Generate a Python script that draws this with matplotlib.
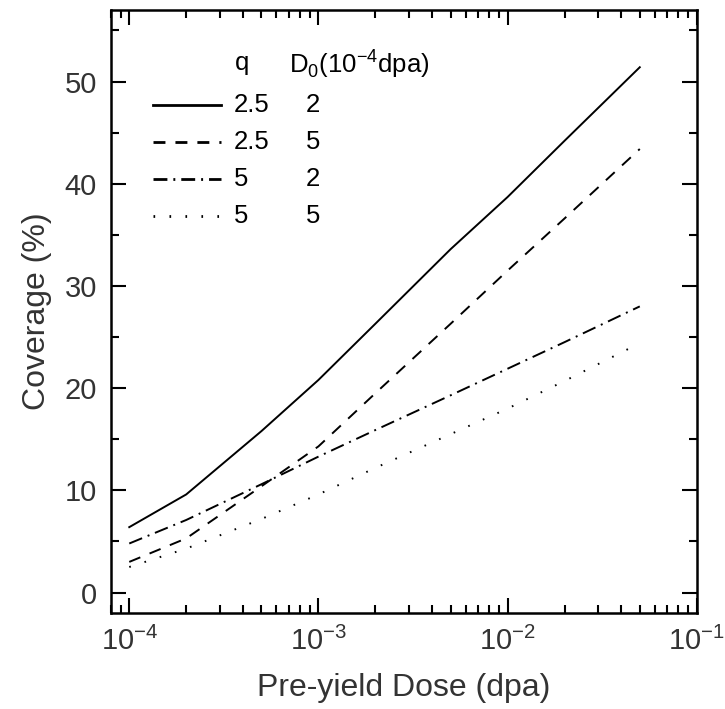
import numpy as np
import matplotlib
matplotlib.use('Agg')
import matplotlib.pyplot as plt

plt.rcParams['font.family'] = ['Liberation Sans', 'DejaVu Sans']
plt.rcParams['mathtext.fontset'] = 'custom'
plt.rcParams['mathtext.rm'] = 'Liberation Sans'
plt.rcParams['lines.scale_dashes'] = False
plt.rcParams['axes.unicode_minus'] = False

# dose points (dpa)
dose = [1e-4, 2e-4, 5e-4, 1e-3, 2e-3, 5e-3, 1e-2, 2e-2, 5e-2]

# coverage (%) for each (q, D0) pair
cov_q25_d2 = [6.4, 9.6, 15.8, 20.8, 26.3, 33.6, 38.7, 44.2, 51.4]
cov_q25_d5 = [3.0, 5.3, 10.4, 14.3, 19.5, 26.3, 31.5, 36.6, 43.4]
cov_q5_d2 = [4.8, 7.1, 10.6, 13.3, 15.9, 19.3, 21.9, 24.5, 28.0]
cov_q5_d5 = [2.5, 4.3, 7.2, 9.6, 12.2, 15.5, 18.0, 20.7, 24.4]

q_labels = ['2.5', '2.5', '5', '5']
d0_labels = ['2', '5', '2', '5']

styles = ['-', (0, (8.6, 7.2)), (0, (10, 4.3, 1.4, 4.3)), (0, (1.2, 10.3))]
series = [cov_q25_d2, cov_q25_d5, cov_q5_d2, cov_q5_d5]

fig = plt.figure(figsize=(7.25, 7.09), dpi=100)
ax = fig.add_axes([0.153, 0.1354, 0.808, 0.8505])

for ys, ls in zip(series, styles):
	ax.plot(dose, ys, color='black', linestyle=ls, linewidth=1.4)

ax.set_xscale('log')
ax.set_xlim(8e-5, 0.1)
ax.set_ylim(-2, 57)
ax.set_yticks([0, 10, 20, 30, 40, 50])
ax.set_yticks(np.arange(0, 56, 5), minor=True)

ax.tick_params(which='both', direction='in', top=True, right=True, width=1.5,
	labelsize=21, labelcolor='#333333')
ax.tick_params(which='major', length=11, pad=10)
ax.tick_params(which='minor', length=6)
for sp in ax.spines.values():
	sp.set_linewidth(1.8)

ax.set_xlabel('Pre-yield Dose (dpa)', fontsize=23, color='#333333', labelpad=12)
ax.set_ylabel('Coverage (%)', fontsize=23, color='#333333', labelpad=9)

# hand made legend table
ax.text(0.212, 0.912, 'q', transform=ax.transAxes, fontsize=18.5, va='center')
ax.text(0.304, 0.912, r'D$_0$(10$^{-4}$dpa)', transform=ax.transAxes, fontsize=18.5, va='center')
row_y = [0.842, 0.781, 0.719, 0.658]
for i in range(4):
	ax.plot([0.071, 0.188], [row_y[i], row_y[i]], transform=ax.transAxes,
		color='black', linestyle=styles[i], linewidth=2.0)
	ax.text(0.21, row_y[i], q_labels[i], transform=ax.transAxes, fontsize=18.5, va='center')
	ax.text(0.333, row_y[i], d0_labels[i], transform=ax.transAxes, fontsize=18.5, va='center')

fig.savefig('out.png', dpi=100)
